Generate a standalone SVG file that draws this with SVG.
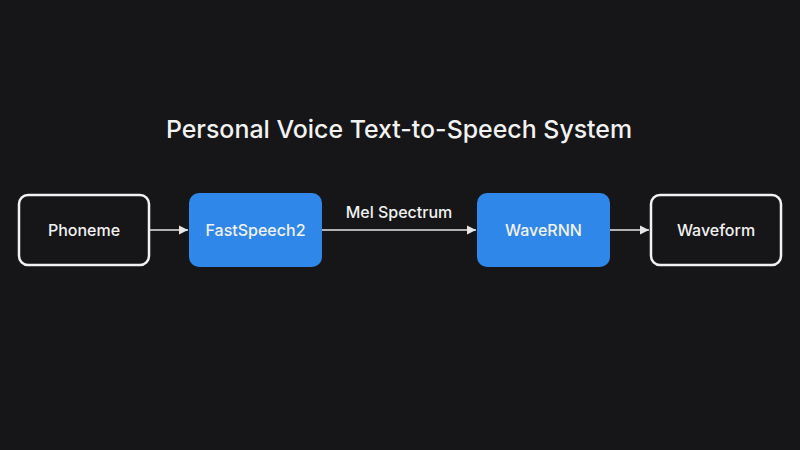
<svg xmlns="http://www.w3.org/2000/svg" width="800" height="450" viewBox="0 0 800 450">
<defs>
<style>
.t{font-family:Inter,"Noto Sans","Liberation Sans",sans-serif;fill:#f2f2f2;text-anchor:middle}
.lbl{font-size:16px;font-weight:500}
.out{fill:#161618;stroke:#f2f2f2;stroke-width:2.5}
.blue{fill:#2f88e9}
.conn{stroke:#e6e6e6;stroke-width:1.3;fill:none}
</style>
<marker id="ah" markerWidth="10" markerHeight="10" refX="9" refY="5" orient="auto" markerUnits="userSpaceOnUse">
<path d="M0,0.5 L9,5 L0,9.5 Z" fill="#e6e6e6"/>
</marker>
</defs>
<rect width="800" height="450" fill="#161618"/>
<text class="t" x="399" y="138" font-size="24.9" font-weight="500">Personal Voice Text-to-Speech System</text>
<g id="connectors">
<line class="conn" x1="150" y1="230" x2="188" y2="230" marker-end="url(#ah)"/>
<line class="conn" x1="322" y1="230" x2="476" y2="230" marker-end="url(#ah)"/>
<line class="conn" x1="610" y1="230" x2="649" y2="230" marker-end="url(#ah)"/>
<text class="t lbl" x="399" y="218">Mel Spectrum</text>
</g>
<g id="phoneme">
<rect class="out" x="19" y="195" width="130" height="70" rx="9"/>
<text class="t lbl" x="84" y="236">Phoneme</text>
</g>
<g id="fastspeech2">
<rect class="blue" x="189" y="193" width="133" height="74" rx="10"/>
<text class="t lbl" x="255.5" y="236">FastSpeech2</text>
</g>
<g id="wavernn">
<rect class="blue" x="477" y="193" width="133" height="74" rx="10"/>
<text class="t lbl" x="543.5" y="236">WaveRNN</text>
</g>
<g id="waveform">
<rect class="out" x="651" y="195" width="130" height="70" rx="9"/>
<text class="t lbl" x="716" y="236">Waveform</text>
</g>
</svg>
